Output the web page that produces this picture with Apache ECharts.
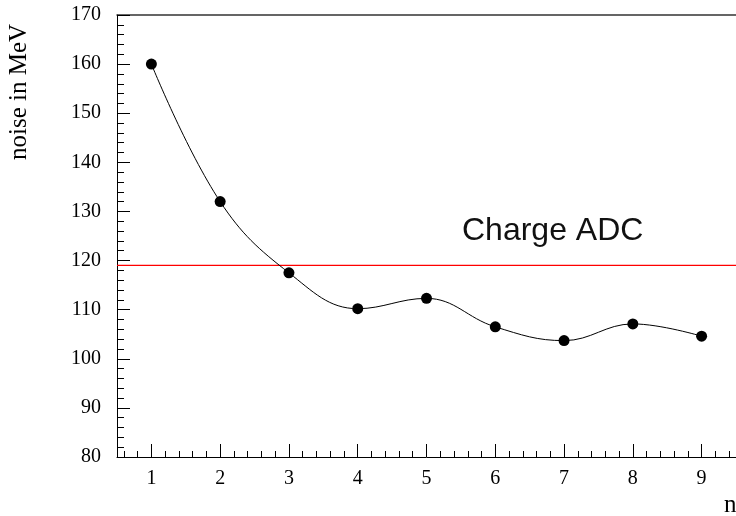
<!DOCTYPE html>
<html>
<head>
<meta charset="utf-8">
<script src="https://cdn.jsdelivr.net/npm/echarts@6/dist/echarts.min.js"></script>
<style>
  html, body { margin: 0; padding: 0; background: #fff; }
  #chart { width: 736px; height: 516px; }
</style>
</head>
<body>
<div id="chart"></div>
<script>
// Noise per number of samples n
const nValues = [1, 2, 3, 4, 5, 6, 7, 8, 9];
const noiseMeV = [160, 132, 117.5, 110.2, 112.3, 106.5, 103.7, 107.1, 104.6];
const chargeAdcLevel = 119;

// Axis ranges and labels
const xRange = [0.5, 9.5];
const xTickLabels = [1, 2, 3, 4, 5, 6, 7, 8, 9];
const yRange = [80, 170];
const yStep = 10;

// minor ticks on the n axis every 0.2
const xMinor = [];
for (let v = 0.6; v < 9.5; v += 0.2) {
  const r = Math.round(v * 10) / 10;
  if (Math.abs(r - Math.round(r)) > 1e-6) xMinor.push(r);
}

const serif = 'Liberation Serif';
const chart = echarts.init(document.getElementById('chart'), null, { renderer: 'canvas' });

chart.setOption({
  animation: false,
  backgroundColor: '#fff',
  grid: { left: 117, top: 15, right: -1, bottom: 59, show: false },
  xAxis: [
    {
      type: 'value', min: xRange[0], max: xRange[1],
      axisLine: { show: true, onZero: false, lineStyle: { color: '#000', width: 1 } },
      splitLine: { show: false },
      axisTick: { show: true, inside: true, length: 13, customValues: xTickLabels, lineStyle: { color: '#000' } },
      axisLabel: {
        show: true, customValues: xTickLabels, margin: 12,
        fontFamily: serif, fontSize: 20, color: '#000'
      }
    },
    {
      type: 'value', min: xRange[0], max: xRange[1], position: 'bottom',
      axisLine: { show: false },
      splitLine: { show: false },
      axisTick: { show: true, inside: true, length: 6, customValues: xMinor, lineStyle: { color: '#000' } },
      axisLabel: { show: false }
    },
    {
      // frame line along the top of the plot
      type: 'value', min: xRange[0], max: xRange[1], position: 'top',
      axisLine: { show: true, onZero: false, lineStyle: { color: '#333', width: 1.5 } },
      splitLine: { show: false },
      axisTick: { show: false },
      axisLabel: { show: false }
    }
  ],
  yAxis: {
    type: 'value', min: yRange[0], max: yRange[1], interval: yStep,
    axisLine: { show: true, onZero: false, lineStyle: { color: '#000', width: 1 } },
    splitLine: { show: false },
    axisTick: { show: true, inside: true, length: 13, lineStyle: { color: '#000' } },
    minorTick: { show: true, splitNumber: 5, length: 7, lineStyle: { color: '#000' } },
    axisLabel: { margin: 16, fontFamily: serif, fontSize: 20, color: '#000' }
  },
  graphic: [
    {
      type: 'text', x: 19, y: 92, rotation: Math.PI / 2,
      style: {
        text: 'noise in MeV', font: '25px "Liberation Serif"', fill: '#000',
        textAlign: 'center', textVerticalAlign: 'middle'
      }
    },
    {
      type: 'text', x: 724, y: 505,
      style: {
        text: 'n', font: '25px "Liberation Serif"', fill: '#000',
        textAlign: 'left', textVerticalAlign: 'middle'
      }
    },
    {
      type: 'text', x: 462, y: 231,
      style: {
        text: 'Charge ADC', font: '32px "Liberation Sans"', fill: '#111',
        textAlign: 'left', textVerticalAlign: 'middle'
      }
    }
  ],
  series: [
    {
      // Charge ADC reference level across the whole n range
      type: 'line',
      data: xRange.map(x => [x, chargeAdcLevel]),
      symbol: 'none',
      lineStyle: { color: '#ff0000', width: 1.2 },
      silent: true,
      z: 2
    },
    {
      type: 'line',
      data: nValues.map((n, i) => [n, noiseMeV[i]]),
      smooth: 0.4,
      symbol: 'circle', symbolSize: 11,
      itemStyle: { color: '#000' },
      lineStyle: { color: '#000', width: 1 },
      z: 3
    }
  ]
});
</script>
</body>
</html>
